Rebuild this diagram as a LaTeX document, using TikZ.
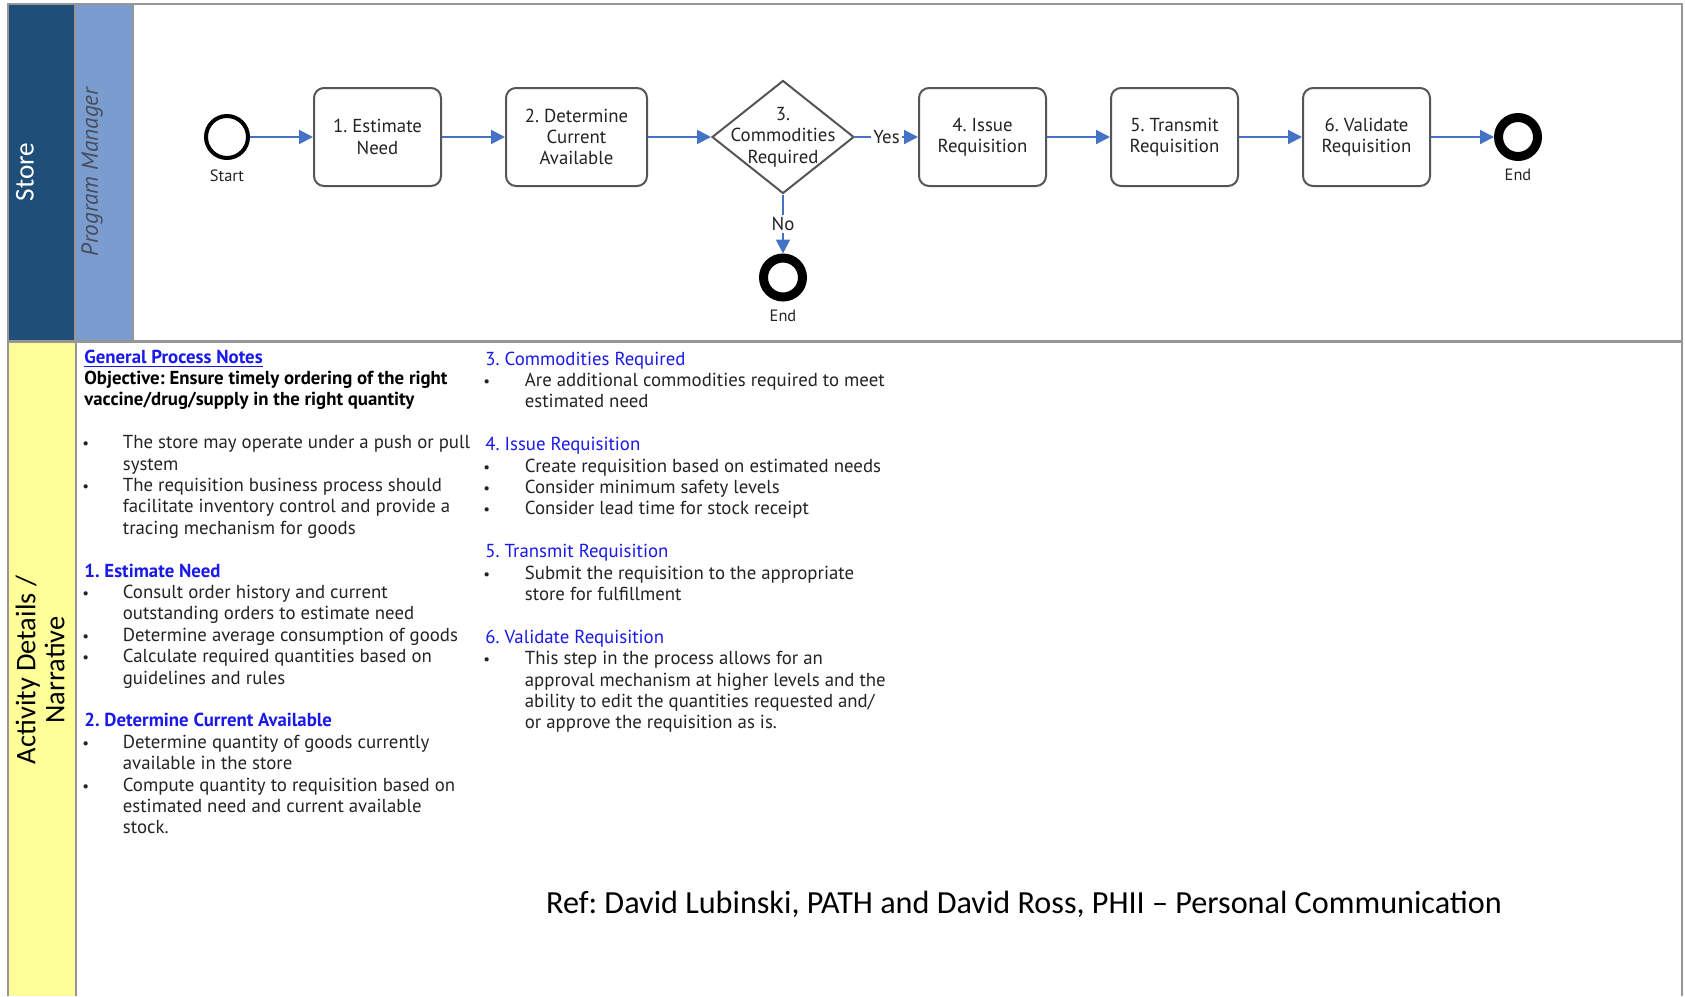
\documentclass[tikz,border=0pt]{standalone}
\usepackage{fontspec}
\setmainfont{PT Sans}
\newfontfamily\calibri{Carlito}
\usetikzlibrary{shapes.geometric,arrows.meta,positioning}
\definecolor{storeblue}{RGB}{31,78,121}
\definecolor{pmblue}{RGB}{123,156,207}
\definecolor{narrative}{RGB}{255,255,153}
\definecolor{flowblue}{RGB}{68,114,196}
\definecolor{headblue}{RGB}{25,25,235}
\definecolor{boxgray}{RGB}{85,85,85}
\definecolor{framegray}{RGB}{150,150,150}
\definecolor{bodytext}{RGB}{35,35,35}
\definecolor{pmtext}{RGB}{70,78,92}
\frenchspacing
\newcommand{\bodysize}{\fontsize{9.4}{10.7}\selectfont}
\newcommand{\stephead}[1]{\multicolumn{2}{@{}l@{}}{\textcolor{headblue}{#1}}}
\newcommand{\plainrow}[1]{\multicolumn{2}{@{}l@{}}{#1}}
\newcommand{\bul}{\hspace{-1pt}{\fontsize{7.5}{8}\selectfont\textbullet}}

\begin{document}
\begin{tikzpicture}[
    x=0.5pt, y=-0.5pt,
    task/.style={draw=boxgray, line width=1pt, rounded corners=5pt, minimum width=63.5pt,
                 minimum height=49pt, align=center, font=\bodysize, text=bodytext},
    tasktext/.style={align=center, font=\bodysize, text=bodytext, inner sep=0pt},
    decision/.style={diamond, draw=boxgray, line width=1pt, minimum width=71pt,
                     minimum height=56.5pt, inner sep=0pt},
    startevent/.style={circle, draw=black, line width=2pt, minimum size=21pt, inner sep=0pt},
    endevent/.style={circle, draw=black, line width=4.5pt, minimum size=19.5pt, inner sep=0pt},
    evlabel/.style={font=\fontsize{8.2}{9}\selectfont, text=bodytext, inner sep=1pt},
    flow/.style={-{Triangle[length=7pt,width=7pt]}, draw=flowblue, line width=1pt},
    flowlabel/.style={fill=white, inner sep=1pt, font=\bodysize, text=bodytext},
    notes/.style={inner sep=0pt, anchor=base west, font=\bodysize, text=bodytext},
    lanetitle/.style={rotate=90, font=\calibri\fontsize{14.2}{15}\selectfont}
    ]
\useasboundingbox (0,0) rectangle (1685,996);

% lanes
\fill[storeblue] (8,4) rectangle (75,341);
\fill[pmblue] (75,4) rectangle (133,341);
\fill[narrative] (8,341) rectangle (76,996);
\draw[framegray, line width=1pt] (8,996) -- (8,4) -- (1682,4) -- (1682,996);
\draw[framegray, line width=1.5pt] (8,341) -- (1682,341);
\draw[framegray, line width=1pt] (75,4) -- (75,341);
\draw[framegray, line width=1pt] (133,4) -- (133,341);
\draw[framegray, line width=1pt] (76,341) -- (76,996);

\node[lanetitle, font=\calibri\fontsize{13.6}{14}\selectfont, text=white] (store) at (25,172) {Store};
\node[rotate=90, font=\itshape\fontsize{11.6}{12}\selectfont, text=pmtext] (manager) at (92,172) {Program Manager};
\node[lanetitle, align=center, text=black] (activity) at (40,670) {Activity Details /\\[-0.5pt]Narrative};

% process flow
\node[startevent] (start) at (227,137) {};
\node[evlabel, below=3.5pt of start] (startlbl) {Start};
\node[task, right=31.5pt of start] (t1) {1. Estimate\\Need};
\node[task, minimum width=70.5pt, right=31.5pt of t1] (t2) {2. Determine\\Current\\Available};
\node[decision, right=31.5pt of t2] (q3) {};
\node[tasktext] (q3text) at (q3) {3.\\Commodities\\Required};
\node[task, right=31.5pt of q3] (t4) {4. Issue\\Requisition};
\node[task, right=31.5pt of t4] (t5) {5. Transmit\\Requisition};
\node[task, right=31.5pt of t5] (t6) {6. Validate\\Requisition};
\node[endevent, right=31.5pt of t6] (finish) {};
\node[evlabel, below=3pt of finish] (finishlbl) {End};
\node[endevent, below=29.5pt of q3] (stop) {};
\node[evlabel, below=3pt of stop] (stoplbl) {End};

\path (start) edge[flow] (t1);
\path (t1) edge[flow] (t2);
\path (t2) edge[flow] (q3);
\path (q3) edge[flow] node[flowlabel] {Yes} (t4);
\path (q3) edge[flow] node[flowlabel] {No} (stop);
\path (t4) edge[flow] (t5);
\path (t5) edge[flow] (t6);
\path (t6) edge[flow] (finish);

% narrative, left column
\node[notes] (general) at (84,363) {%
\begin{tabular}[t]{@{}p{19.25pt}@{}l@{}}
\stephead{\textbf{\underline{General Process Notes}}}\\
\plainrow{\textcolor{black}{\textbf{Objective: Ensure timely ordering of the right}}}\\
\plainrow{\textcolor{black}{\textbf{vaccine/drug/supply in the right quantity}}}\\
 & \\
\bul & The store may operate under a push or pull\\
 & system\\
\bul & The requisition business process should\\
 & facilitate inventory control and provide a\\
 & tracing mechanism for goods\\
 & \\
\stephead{\textbf{1. Estimate Need}}\\
\bul & Consult order history and current\\
 & outstanding orders to estimate need\\
\bul & Determine average consumption of goods\\
\bul & Calculate required quantities based on\\
 & guidelines and rules\\
 & \\
\stephead{\textbf{2. Determine Current Available}}\\
\bul & Determine quantity of goods currently\\
 & available in the store\\
\bul & Compute quantity to requisition based on\\
 & estimated need and current available\\
 & stock.\\
\end{tabular}};

% narrative, right column
\node[notes] (steps) at (485,365) {%
\begin{tabular}[t]{@{}p{19.75pt}@{}l@{}}
\stephead{3. Commodities Required}\\
\bul & Are additional commodities required to meet\\
 & estimated need\\
 & \\
\stephead{4. Issue Requisition}\\
\bul & Create requisition based on estimated needs\\
\bul & Consider minimum safety levels\\
\bul & Consider lead time for stock receipt\\
 & \\
\stephead{5. Transmit Requisition}\\
\bul & Submit the requisition to the appropriate\\
 & store for fulfillment\\
 & \\
\stephead{6. Validate Requisition}\\
\bul & This step in the process allows for an\\
 & approval mechanism at higher levels and the\\
 & ability to edit the quantities requested and/\\
 & or approve the requisition as is.\\
\end{tabular}};

\node[font=\calibri\fontsize{16.1}{18}\selectfont] (ref) at (1024,904)
  {Ref: David Lubinski, PATH and David Ross, PHII – Personal Communication};
\end{tikzpicture}
\end{document}
